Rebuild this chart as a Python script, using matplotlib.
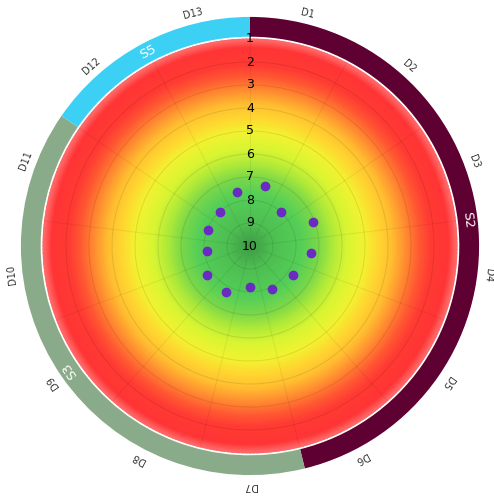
import numpy as np
import matplotlib
matplotlib.use("Agg")
from matplotlib import pyplot as plt
from matplotlib.colors import LinearSegmentedColormap

# categories and values (scale runs 10 at the centre to 1 at the rim)
categories = ['D1', 'D2', 'D3', 'D4', 'D5', 'D6', 'D7',
              'D8', 'D9', 'D10', 'D11', 'D12', 'D13']
values = [7.3, 8.0, 7.05, 7.35, 7.75, 7.9, 8.2, 7.75, 7.75, 8.1, 8.05, 8.05, 7.6]

# outer ring groups: name, number of categories, colour
group_names = ['S2', 'S3', 'S5']
group_sizes = [6, 5, 2]
group_colors = ['#5e0032', '#8aab8a', '#3dd0f5']

scale_labels = [str(i) for i in range(1, 11)]

grad_stops = [(0.0, '#3e9a45'), (0.1, '#4dbd51'), (0.25, '#55cf58'),
              (0.33, '#7ad84a'), (0.4, '#b0ea3a'), (0.47, '#d8f532'),
              (0.56, '#f4f230'), (0.62, '#ffd830'), (0.69, '#ffbe30'),
              (0.76, '#ff8a30'), (0.82, '#ff5a32'), (0.88, '#ff3a33'),
              (0.96, '#ff3535'), (1.0, '#ff6a6a')]


def main():
	n = len(categories)
	step = 2 * np.pi / n
	theta = (np.arange(n) + 0.5) * step
	r_pts = 10 - np.array(values)

	fig = plt.figure(figsize=(4.94, 4.96), dpi=100)
	ax = fig.add_axes([20 / 494, 20 / 496, 460 / 494, 460 / 496], projection='polar')
	ax.set_theta_zero_location('N')
	ax.set_theta_direction(-1)
	ax.set_ylim(0, 10)
	ax.axis('off')

	# radial gradient background
	cmap = LinearSegmentedColormap.from_list('bg', grad_stops)
	tt, rr = np.meshgrid(np.linspace(0, 2 * np.pi, 361), np.linspace(0, 9, 180))
	ax.pcolormesh(tt, rr, rr / 9, cmap=cmap, shading='gouraud', zorder=0)

	# grid
	circ = np.linspace(0, 2 * np.pi, 400)
	for r in range(1, 9):
		ax.plot(circ, np.full_like(circ, r), color='#000000', alpha=0.09, lw=0.8, zorder=1)
	for k in range(n):
		ax.plot([k * step, k * step], [0.6, 9], color='#000000', alpha=0.06, lw=0.8, zorder=1)

	# outer ring
	start = 0
	for name, size, col in zip(group_names, group_sizes, group_colors):
		ax.bar(start * step, 0.86, width=size * step, bottom=9.1, align='edge',
			   color=col, edgecolor='none', zorder=2)
		mid = (start + size / 2) * step
		ax.text(mid, 9.53, name, color='white', fontsize=9.5, ha='center', va='center',
				rotation=-np.degrees(mid), rotation_mode='anchor', zorder=3)
		start += size

	# category labels
	for t, lab in zip(theta, categories):
		ax.text(t, 10.42, lab, color='#333333', fontsize=7, ha='center', va='center',
				rotation=-np.degrees(t), rotation_mode='anchor', clip_on=False)

	# scale labels
	for i, lab in enumerate(scale_labels):
		ax.text(0, 9 - i, lab, color='black', fontsize=9, ha='center', va='center', zorder=4)

	ax.plot(theta, r_pts, 'o', color='#6a2bc2', markersize=6, linestyle='none', zorder=5)

	plt.savefig('out.png', dpi=100)


if __name__ == '__main__':
	main()
